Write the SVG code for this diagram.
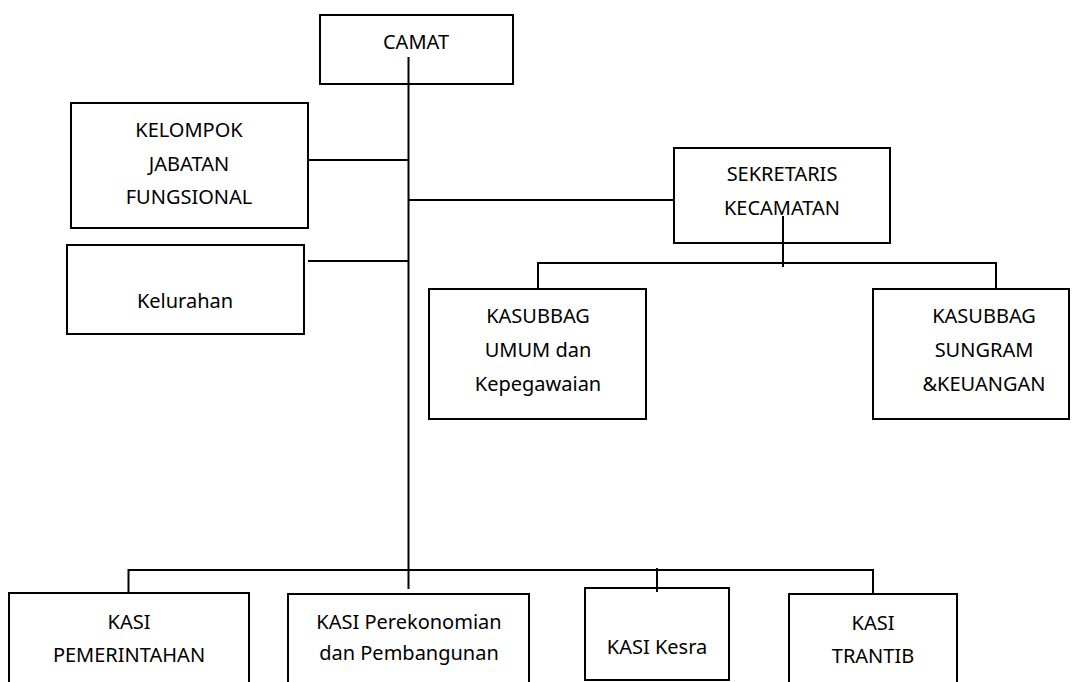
<svg xmlns="http://www.w3.org/2000/svg" width="1075" height="682" viewBox="0 0 1075 682">
<style>
.box{fill:#fff;stroke:#000;stroke-width:2}
.ln{fill:none;stroke:#000;stroke-width:2}
text{font-family:"Noto Sans","Open Sans",sans-serif;font-size:20px;fill:#000;text-anchor:middle}
</style>
<rect width="1075" height="682" fill="#fff"/>
<g id="camat"><rect class="box" x="320" y="15" width="193" height="69"/><text x="416" y="49">CAMAT</text></g>
<g id="kelompok"><rect class="box" x="71" y="103" width="237" height="125"/><text x="189" y="137">KELOMPOK</text><text x="189" y="171">JABATAN</text><text x="189" y="204">FUNGSIONAL</text></g>
<g id="kelurahan"><rect class="box" x="67" y="245" width="237" height="89"/><text x="185" y="308">Kelurahan</text></g>
<g id="sekretaris"><rect class="box" x="674" y="148" width="216" height="95"/><text x="782" y="181">SEKRETARIS</text><text x="782" y="215">KECAMATAN</text></g>
<g id="kasubbag-umum"><rect class="box" x="429" y="289" width="217" height="130"/><text x="538" y="323">KASUBBAG</text><text x="538" y="357">UMUM dan</text><text x="538" y="391">Kepegawaian</text></g>
<g id="kasubbag-sungram"><rect class="box" x="873" y="289" width="196" height="130"/><text x="984" y="323">KASUBBAG</text><text x="984" y="357">SUNGRAM</text><text x="984" y="391">&amp;KEUANGAN</text></g>
<g id="kasi-pemerintahan"><rect class="box" x="9" y="593" width="240" height="100"/><text x="129" y="629">KASI</text><text x="129" y="662">PEMERINTAHAN</text></g>
<g id="kasi-perekonomian"><rect class="box" x="288" y="594" width="241" height="100"/><text x="409" y="629">KASI Perekonomian</text><text x="409" y="660">dan Pembangunan</text></g>
<g id="kasi-kesra"><rect class="box" x="585" y="588" width="144" height="92"/><text x="657" y="654">KASI Kesra</text></g>
<g id="kasi-trantib"><rect class="box" x="789" y="594" width="168" height="100"/><text x="873" y="630">KASI</text><text x="873" y="663">TRANTIB</text></g>
<g id="connectors">
<path class="ln" d="M408.5 57V589"/>
<path class="ln" d="M308 160H408.5"/>
<path class="ln" d="M408.5 200H673"/>
<path class="ln" d="M308 261H408.5"/>
<path class="ln" d="M783 216V267"/>
<path class="ln" d="M538 289V263H996V289"/>
<path class="ln" d="M128.5 593V570H873V594"/>
<path class="ln" d="M657 568V592"/>
</g>
</svg>
